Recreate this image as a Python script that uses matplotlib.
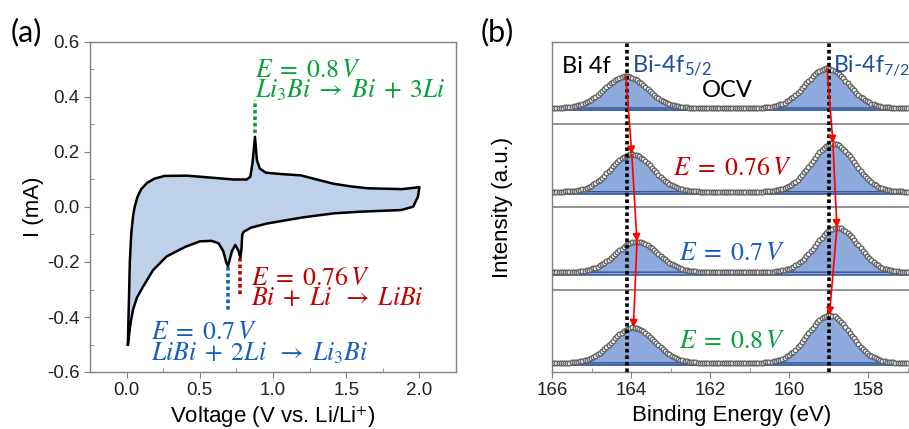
import numpy as np
import matplotlib
matplotlib.use("Agg")
import matplotlib.pyplot as plt
from matplotlib.ticker import MultipleLocator

plt.rcParams['mathtext.fontset'] = 'stix'
plt.rcParams['font.family'] = ['Liberation Sans', 'DejaVu Sans']

# ---------------- Panel (a): cyclic voltammogram ----------------
V_anodic = [0.009, 0.012, 0.016, 0.022, 0.032, 0.045, 0.055, 0.075, 0.1, 0.14, 0.19, 0.26, 0.41,
            0.55, 0.73, 0.82, 0.845, 0.86, 0.877, 0.89, 0.91, 0.95, 1.05, 1.19, 1.3, 1.41, 1.53,
            1.65, 1.88, 2.0]
I_anodic = [-0.5, -0.42, -0.338, -0.2, -0.095, -0.03, 0.0, 0.038, 0.065, 0.088, 0.103, 0.113, 0.114,
            0.108, 0.10, 0.10, 0.11, 0.16, 0.255, 0.17, 0.14, 0.125, 0.12, 0.115, 0.10, 0.085, 0.075,
            0.068, 0.065, 0.072]
V_cathodic = [2.0, 1.99, 1.957, 1.876, 1.6, 1.418, 1.2, 0.96, 0.85, 0.8, 0.79, 0.785, 0.777, 0.765,
              0.742, 0.72, 0.70, 0.692, 0.68, 0.66, 0.628, 0.58, 0.5, 0.4, 0.273, 0.18, 0.112, 0.07,
              0.043, 0.025, 0.009]
I_cathodic = [0.072, 0.037, 0.001, -0.011, -0.017, -0.023, -0.038, -0.06, -0.075, -0.09, -0.1, -0.15,
              -0.185, -0.16, -0.138, -0.16, -0.2, -0.215, -0.2, -0.16, -0.132, -0.123, -0.125, -0.145,
              -0.18, -0.23, -0.29, -0.33, -0.375, -0.43, -0.5]

cv_xticks = [0.0, 0.5, 1.0, 1.5, 2.0]
cv_xticklabels = ['0.0', '0.5', '1.0', '1.5', '2.0']
cv_yticks = [-0.6, -0.4, -0.2, 0.0, 0.2, 0.4, 0.6]
cv_yticklabels = ['-0.6', '-0.4', '-0.2', '0.0', '0.2', '0.4', '0.6']

# peak markers: (voltage, I_start, I_end)
mark_ox = (0.877, 0.27, 0.39)
mark_red1 = (0.777, -0.185, -0.32)
mark_red2 = (0.692, -0.22, -0.38)

# ---------------- Panel (b): XPS Bi 4f ----------------
xps_labels = ['OCV', '0.76', '0.7', '0.8']
center_52 = [164.13, 163.98, 163.85, 163.94]
center_72 = [159.04, 158.89, 158.79, 158.98]
amp_52 = [0.385, 0.455, 0.37, 0.43]
amp_72 = [0.48, 0.585, 0.54, 0.58]
bg_level = [0.20, 0.185, 0.21, 0.11]
fwhm = [1.27, 1.27, 1.27, 1.27]
ref_52 = 164.1
ref_72 = 159.0
be_ticks = [166, 164, 162, 160, 158]

green = '#07A03A'
red = '#C00000'
blue = '#1560BD'

fig = plt.figure(figsize=(9.09, 4.29), dpi=100)

# ---------- (a) ----------
axa = fig.add_axes([90/909, 1-372/429, (456-90)/909, (372-42)/429])
Vpoly = V_anodic + V_cathodic
Ipoly = I_anodic + I_cathodic
axa.fill(Vpoly, Ipoly, color='#BFD0EA', zorder=1)
axa.plot(Vpoly, Ipoly, color='black', lw=1.8, zorder=2, solid_joinstyle='round')
axa.set_xlim(-0.25, 2.25)
axa.set_ylim(-0.6, 0.6)
axa.set_xticks(cv_xticks)
axa.set_xticklabels(cv_xticklabels)
axa.set_yticks(cv_yticks)
axa.set_yticklabels(cv_yticklabels)
axa.xaxis.set_minor_locator(MultipleLocator(0.25))
axa.yaxis.set_minor_locator(MultipleLocator(0.1))
axa.tick_params(which='major', direction='out', length=4, color='#808080', labelsize=13.5,
                labelcolor='#222222')
axa.tick_params(which='minor', direction='in', length=3, color='#808080')
for s in axa.spines.values():
    s.set_color('#808080')
    s.set_linewidth(1.0)
axa.set_xlabel('Voltage (V vs. Li/Li$^{+}$)', fontsize=16, labelpad=4)
axa.set_ylabel('I (mA)', fontsize=16, labelpad=2)

axa.plot([mark_ox[0]]*2, [mark_ox[1], mark_ox[2]], color=green, lw=2.6, ls=(0, (1, 0.8)))
axa.plot([mark_red1[0]]*2, [mark_red1[1], mark_red1[2]], color=red, lw=2.6, ls=(0, (1, 0.8)))
axa.plot([mark_red2[0]]*2, [mark_red2[1], mark_red2[2]], color=blue, lw=2.6, ls=(0, (1, 0.8)))

mfs = 18.5
ls_ = 0.78
axa.text(0.875, 0.397, r'$E\;=\;0.8\,V$' + '\n' + r'$Li_3Bi\;\rightarrow\;Bi\;+\;3Li$',
         color=green, fontsize=mfs, va='baseline', ha='left', linespacing=ls_)
axa.text(0.852, -0.355, r'$E\;=\;0.76\,V$' + '\n' + r'$Bi\;+\;Li\;\;\rightarrow\;LiBi$',
         color=red, fontsize=mfs, va='baseline', ha='left', linespacing=ls_)
axa.text(0.165, -0.556, r'$E\;=\;0.7\,V$' + '\n' + r'$LiBi\;+\;2Li\;\;\rightarrow\;Li_3Bi$',
         color=blue, fontsize=mfs, va='baseline', ha='left', linespacing=ls_)

fig.text(11/909, 1-41/429, '(a)', fontsize=22, family=['Lato', 'DejaVu Sans'], va='baseline')
fig.text(481/909, 1-41/429, '(b)', fontsize=22, family=['Lato', 'DejaVu Sans'], va='baseline')

# ---------- (b) ----------
axb = fig.add_axes([552/909, 1-372/429, (909-552)/909 + 0.002, (372-42)/429])
x = np.linspace(166, 156.8, 600)
xm = np.arange(166, 156.8, -0.055)

def comp(xx, c, a, w):
    s = w / 2.3548
    return a * np.exp(-0.5 * ((xx - c) / s) ** 2)

for k in range(4):
    off = 3 - k
    base = off + bg_level[k] - 0.03
    g1 = comp(x, center_52[k], amp_52[k], fwhm[k])
    g2 = comp(x, center_72[k], amp_72[k], fwhm[k])
    axb.fill_between(x, base, base + 0.03 + g1, where=(x > 161.5), color='#8EA9DB', lw=0, zorder=1)
    axb.fill_between(x, base, base + 0.03 + g2, where=(x < 161.5), color='#8EA9DB', lw=0, zorder=1)
    axb.plot(x, base + 0.03 + g1, color='#2F5597', lw=1.0, zorder=2)
    axb.plot(x, base + 0.03 + g2, color='#2F5597', lw=1.0, zorder=2)
    axb.plot(x, np.full_like(x, base), color='#2F5597', lw=1.1, zorder=2)
    env = off + bg_level[k] + g1 + g2
    axb.plot(x, env, color='red', lw=0.9, zorder=3)
    env_m = off + bg_level[k] + comp(xm, center_52[k], amp_52[k], fwhm[k]) + comp(xm, center_72[k], amp_72[k], fwhm[k])
    axb.plot(xm, env_m, ls='none', marker='o', ms=3.4, mfc='#F0F0F0', mec='#606060', mew=0.9, zorder=4)

for y in [1, 2, 3]:
    axb.axhline(y, color='#808080', lw=1.2, zorder=5)

axb.axvline(ref_52, color='black', lw=2.6, ls=(0, (1, 0.8)), zorder=6)
axb.axvline(ref_72, color='black', lw=2.6, ls=(0, (1, 0.8)), zorder=6)

for k in range(3):
    for cen, amp in ((center_52, amp_52), (center_72, amp_72)):
        y1 = (3 - k) + bg_level[k] + amp[k]
        y2 = (2 - k) + bg_level[k + 1] + amp[k + 1]
        axb.annotate('', xy=(cen[k + 1], y2), xytext=(cen[k], y1),
                     arrowprops=dict(arrowstyle='-|>', color='red', lw=1.2,
                                     mutation_scale=11, shrinkA=0, shrinkB=0), zorder=7)

axb.set_xlim(166, 156.92)
axb.set_ylim(0, 4)
axb.set_yticks([])
axb.set_xticks(be_ticks)
axb.set_xticklabels([str(t) for t in be_ticks])
axb.xaxis.set_minor_locator(MultipleLocator(1))
axb.tick_params(which='major', direction='out', length=4, color='#808080', labelsize=13.5,
                labelcolor='#222222')
axb.tick_params(which='minor', direction='in', length=3, color='#808080')
for s in axb.spines.values():
    s.set_color('#808080')
    s.set_linewidth(1.0)
axb.spines['right'].set_visible(False)
axb.set_xlabel('Binding Energy (eV)', fontsize=16, labelpad=4)
axb.set_ylabel('Intensity (a.u.)', fontsize=16, labelpad=28)

lf = ['Lato', 'DejaVu Sans']
axb.text(165.75, 3.63, 'Bi 4f', fontsize=17, family=lf, color='black', va='baseline', zorder=8)
axb.text(163.97, 3.63, 'Bi-4f$_{\\mathregular{5/2}}$', fontsize=17, family=lf, color='#1F4E9E', va='baseline', zorder=8)
axb.text(158.9, 3.63, 'Bi-4f$_{\\mathregular{7/2}}$', fontsize=16.5, family=lf, color='#1F4E9E', va='baseline', zorder=8)
axb.text(161.57, 3.33, 'OCV', fontsize=17, family=lf, color='black', va='baseline', ha='center', zorder=8)
axb.text(161.44, 2.385, r'$E\;=\;0.76\,V$', color=red, fontsize=mfs, va='baseline', ha='center', zorder=8)
axb.text(161.45, 1.36, r'$E\;=\;0.7\,V$', color=blue, fontsize=mfs, va='baseline', ha='center', zorder=8)
axb.text(161.45, 0.29, r'$E\;=\;0.8\,V$', color=green, fontsize=mfs, va='baseline', ha='center', zorder=8)

fig.savefig('out.png', dpi=100)
